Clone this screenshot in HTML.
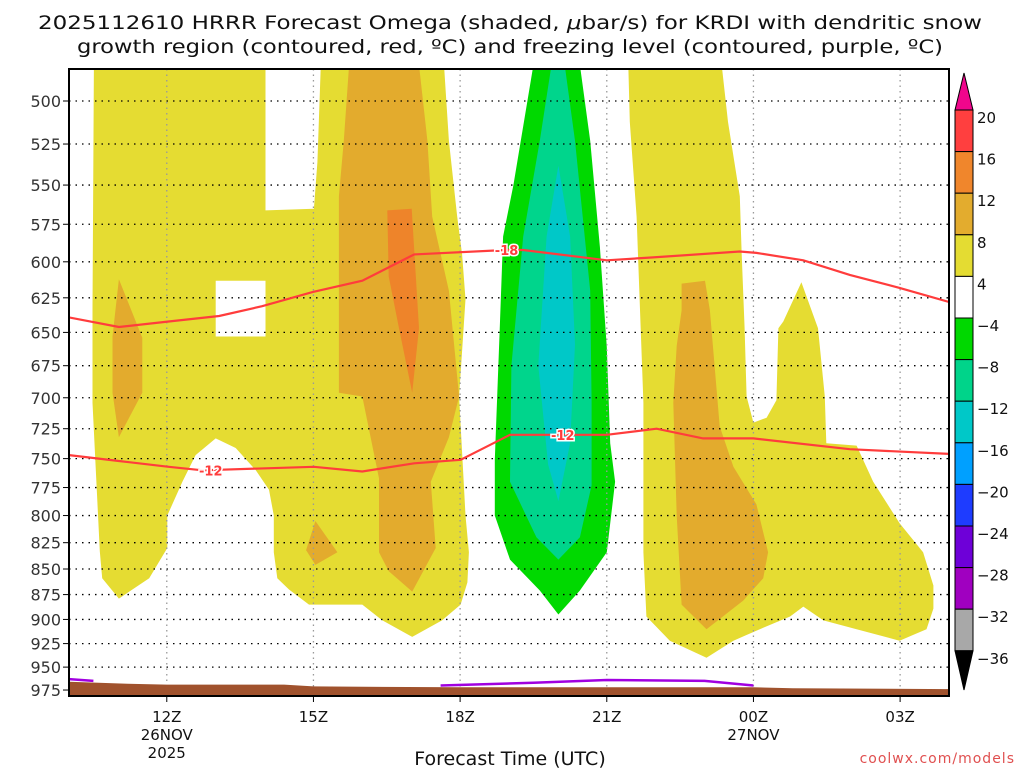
<!DOCTYPE html>
<html><head><meta charset="utf-8">
<style>
html,body{margin:0;padding:0;background:#fff;width:1024px;height:768px;overflow:hidden}
svg{display:block}
text{font-family:"DejaVu Sans","Liberation Sans",sans-serif}
</style></head>
<body>
<svg id="chart" width="1024" height="768" viewBox="0 0 1024 768">
<text x="510" y="29" font-size="19" text-anchor="middle" fill="#111" textLength="944" lengthAdjust="spacingAndGlyphs">2025112610 HRRR Forecast Omega (shaded, <tspan font-style="italic">μ</tspan>bar/s) for KRDI with dendritic snow</text>
<text x="510" y="53" font-size="19" text-anchor="middle" fill="#111" textLength="866" lengthAdjust="spacingAndGlyphs">growth region (contoured, red, ºC) and freezing level (contoured, purple, ºC)</text>
<g id="plot"></g>
<g id="cbar"></g>
<text x="510" y="765" font-size="19" text-anchor="middle" fill="#111">Forecast Time (UTC)</text>
<text x="1015" y="763" font-size="14" text-anchor="end" fill="#e05050" letter-spacing="1">coolwx.com/models</text>
</svg>
<script>
// ---- data ----
const pressureTicks=[500,525,550,575,600,625,650,675,700,725,750,775,800,825,850,875,900,925,950,975];
const timeTicks=[12,15,18,21,24,27];
const timeTickLabels=["12Z","15Z","18Z","21Z","00Z","03Z"];
const timeTickDates=["26NOV\n2025","","","","27NOV",""];
const cbarLevels=[20,16,12,8,4,-4,-8,-12,-16,-20,-24,-28,-32,-36];
const cbarColors=["#ff3f3f","#f0862c","#e3ac2e","#e4dc32","#ffffff","#00d800","#00d48a","#00c8c8","#00a0ff","#1e3cff","#6e00d8","#a000c0","#a8a8a8"];
// omega contour fills: [hour, hPa]
const yellowLeft=[[10.51,480],[10.48,633],[10.48,704],[10.63,833],[10.68,859],[11.02,879],[11.64,859],[12.01,830],[12.01,800],[12.32,770],[12.59,747],[13.0,733],[13.41,741],[13.82,760],[14.09,777],[14.19,800],[14.19,834],[14.26,859],[14.5,870],[14.91,885],[16.0,885],[16.41,901],[17.02,918],[17.63,901],[18.01,885],[18.15,863],[18.18,834],[18.11,800],[17.98,699],[18.11,626],[18.04,595],[17.94,570],[17.77,523],[17.67,480],[15.15,480],[15.08,536],[15.01,565],[14.02,566],[14.02,480]];
const whiteHole=[[13.0,613],[14.02,613],[14.02,653],[13.0,653]];
const orangeLobeA=[[11.02,612],[11.5,654],[11.5,696],[11.02,732],[10.89,696],[10.89,653]];
const orangeBig=[[15.73,480],[17.16,480],[17.33,523],[17.43,570],[17.77,620],[17.98,699],[17.77,732],[17.4,770],[17.5,830],[17.02,872],[16.54,852],[16.34,834],[16.34,767],[16.0,699],[15.52,696],[15.52,557],[15.62,523]];
const orangeSmall=[[15.04,805],[15.49,834],[15.04,846],[14.85,832]];
const darkOrange=[[16.51,566],[17.01,565],[17.16,647],[17.02,696],[16.75,647],[16.54,610]];
const greenFill=[[19.5,480],[20.45,480],[20.66,523],[20.86,590],[21.0,661],[21.07,737],[21.17,770],[21.0,834],[20.45,871],[20.01,895],[19.63,871],[19.02,841],[18.71,800],[18.71,751],[18.81,648],[18.88,583],[19.09,550]];
const tealFill=[[19.87,480],[20.14,480],[20.35,523],[20.66,620],[20.69,704],[20.69,773],[20.45,820],[20.01,841],[19.56,820],[19.02,770],[19.05,675],[19.29,583],[19.63,523]];
const cyanFill=[[20.01,538],[20.25,583],[20.35,659],[20.25,737],[20.01,787],[19.8,755],[19.6,675],[19.77,583]];
const yellowRight=[[21.44,480],[23.35,480],[23.48,512],[23.72,557],[23.76,595],[23.82,647],[23.86,699],[24.0,720],[24.27,716],[24.47,702],[24.51,647],[24.61,642],[24.98,614],[25.32,647],[25.46,699],[25.49,737],[26.11,739],[26.45,770],[26.99,807],[27.47,834],[27.68,866],[27.68,889],[27.54,910],[26.99,922],[26.11,910],[25.43,901],[25.02,887],[24.75,897],[24.13,910],[23.59,922],[23.04,940],[22.29,922],[21.81,897],[21.75,834],[21.75,704],[21.61,570],[21.47,512]];
const orangeRight=[[22.53,615],[23.01,613],[23.11,634],[23.31,723],[23.59,757],[24.06,790],[24.3,834],[24.2,859],[23.79,881],[23.04,910],[22.53,885],[22.43,800],[22.36,704],[22.43,660],[22.53,634]];
// temperature contours
const isoM18=[[10,639],[11.02,646],[12.04,642],[13.07,638],[13.95,631],[14.98,621],[16.0,613],[17.06,595],[18.93,592],[19.29,592],[21.0,599],[21.95,597],[23.72,593],[24.06,594],[25.02,599],[25.97,609],[26.99,618],[28.0,628]];
const isoM12=[[10,747],[11.02,752],[12.04,757],[12.73,760],[15.01,757],[16.0,761],[17.06,754],[18.01,751],[19.02,730],[21.0,730],[22.02,725],[22.97,733],[24.0,733],[25.97,742],[28.0,746]];
const freezeA=[[10,963],[10.5,965]];
const freezeB=[[17.6,970],[19.5,967],[21,964],[23,965],[24,970]];
const terrainHours=[10,11.2,12,14.4,15,18,21,24,24.8,28];
const terrainPres=[966,968,969,969,971,972,972,972,973,974];

// ---- axes ----
const X0=69,X1=949,Y0=69,Y1=696,H0=10,H1=28;
const xOf=h=>X0+(h-H0)*(X1-X0)/(H1-H0);
const yOf=p=>101+882*Math.log(p/500);
const NS="http://www.w3.org/2000/svg";
const plot=document.getElementById('plot');
const cb=document.getElementById('cbar');
function mk(tag,attrs,parent){const e=document.createElementNS(NS,tag);for(const k in attrs)e.setAttribute(k,attrs[k]);(parent||plot).appendChild(e);return e;}
const defs=mk('defs',{},document.getElementById('chart'));
const cp=mk('clipPath',{id:'clip'},defs);mk('rect',{x:X0,y:Y0,width:X1-X0,height:Y1-Y0},cp);
const g=mk('g',{'clip-path':'url(#clip)'});
function pts(a){return a.map(d=>xOf(d[0]).toFixed(1)+','+yOf(d[1]).toFixed(1)).join(' ');}
function poly(a,fill,name){const e=mk('polygon',{points:pts(a),fill:fill},g);

return e;}
poly(yellowLeft,'#e5dc32','omega-fill-4-8-left');
poly(whiteHole,'#ffffff','omega-gap-left');
poly(orangeLobeA,'#e3ab2d','omega-fill-8-12-lobe');
poly(orangeBig,'#e3ab2d','omega-fill-8-12-center');
poly(orangeSmall,'#e3ab2d','omega-fill-8-12-small');
poly(darkOrange,'#ee842a','omega-fill-12-16');
poly(greenFill,'#00d900','omega-fill-minus4-minus8');
poly(tealFill,'#00d58c','omega-fill-minus8-minus12');
poly(cyanFill,'#00c8c8','omega-fill-minus12-minus16');
poly(yellowRight,'#e5dc32','omega-fill-4-8-right');
poly(orangeRight,'#e3ab2d','omega-fill-8-12-right');
// grid
pressureTicks.forEach(p=>{const l=mk('line',{x1:X0,x2:X1,y1:yOf(p),y2:yOf(p),stroke:'#000','stroke-width':1.3,'stroke-dasharray':'1.5,5'},g);

});
timeTicks.forEach(h=>{const l=mk('line',{x1:xOf(h),x2:xOf(h),y1:Y0,y2:Y1,stroke:'#999','stroke-width':1.3,'stroke-dasharray':'1.5,4'},g);

});
// terrain
const terr=terrainHours.map((h,i)=>[h,terrainPres[i]]);
const tp=mk('polygon',{points:pts(terr)+' '+X1+','+Y1+' '+X0+','+Y1,fill:'#a0522d'},g);


function line(a,col,w,name){const e=mk('polyline',{points:pts(a),fill:'none',stroke:col,'stroke-width':w},g);

}
line(freezeA,'#a000e0',2.5,'freezing-level-left');
line(freezeB,'#a000e0',2.5,'freezing-level-center');
line(isoM18,'#ff3c3c',2.2,'isotherm-minus18');
line(isoM12,'#ff3c3c',2.2,'isotherm-minus12');
function clab(h,p,t,name){const x=xOf(h),y=yOf(p);
const tx=mk('text',{x:x,y:y+5,'font-size':13,'font-weight':'bold','text-anchor':'middle',fill:'#ff3c3c',stroke:'#fff','stroke-width':3,'paint-order':'stroke'},g);tx.textContent=t;

}
clab(18.95,592,'-18','isotherm-label-minus18');
clab(12.9,760,'-12','isotherm-label-minus12-left');
clab(20.1,730,'-12','isotherm-label-minus12-right');
// frame
const fr=mk('rect',{x:X0,y:Y0,width:X1-X0,height:Y1-Y0,fill:'none',stroke:'#000','stroke-width':2});


// y ticks
pressureTicks.forEach(p=>{const y=yOf(p);
mk('line',{x1:X0-6,x2:X0,y1:y,y2:y,stroke:'#000','stroke-width':1});
const t=mk('text',{x:X0-8,y:y+6,'font-size':16,'text-anchor':'end',fill:'#333'});t.textContent=p;

});
// x ticks
timeTicks.forEach((h,i)=>{const x=xOf(h);
mk('line',{x1:x,x2:x,y1:Y1,y2:Y1+6,stroke:'#000','stroke-width':1});
const t=mk('text',{x:x,y:722,'font-size':15,'text-anchor':'middle',fill:'#111'});t.textContent=timeTickLabels[i];


timeTickDates[i].split('\n').forEach((s,j)=>{if(!s)return;const d=mk('text',{x:x,y:740+j*18,'font-size':15,'text-anchor':'middle',fill:'#111'});d.textContent=s;

});});
// colorbar
const CX=955,CW=18,CT=110,CS=41.6;
cbarColors.forEach((c,i)=>{const r=mk('rect',{x:CX,y:CT+i*CS,width:CW,height:CS,fill:c,stroke:'#000','stroke-width':1},cb);

});
const tu=mk('polygon',{points:`${CX},${CT} ${CX+CW},${CT} ${CX+CW/2},73`,fill:'#f0068c',stroke:'#000'},cb);


const CB=CT+cbarColors.length*CS;
const td=mk('polygon',{points:`${CX},${CB} ${CX+CW},${CB} ${CX+CW/2},690`,fill:'#000',stroke:'#000'},cb);


cbarLevels.forEach((v,i)=>{const t=mk('text',{x:977,y:CT+i*CS+13,'font-size':15,fill:'#111'},cb);t.textContent=(v<0?'−':'')+Math.abs(v);

});
</script>
</body></html>
